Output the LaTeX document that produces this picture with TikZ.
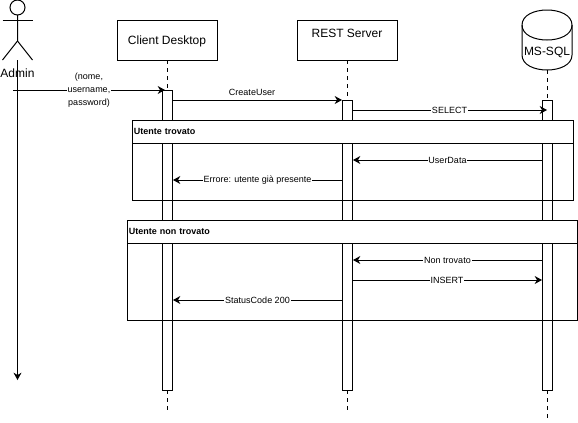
\documentclass[tikz,border=0pt]{standalone}
\usepackage{fontspec}
\setmainfont{Liberation Sans}
\usetikzlibrary{arrows.meta}
\tikzset{
    boxtext/.style={font=\fontsize{9}{11}\selectfont},
    msgtext/.style={font=\fontsize{6.75}{9.75}\selectfont, fill=white, inner sep=0.6pt, align=center},
    headbox/.style={draw, fill=white, boxtext, minimum width=75pt, minimum height=30pt, inner sep=0pt, outer sep=0pt, text height=9pt, text depth=2pt},
    actbox/.style={draw, fill=white, minimum width=7.5pt, inner sep=0pt, outer sep=0pt, anchor=north},
    frametitle/.style={draw, fill=white, font=\fontsize{6.75}{9}\selectfont\bfseries, minimum height=17.25pt, inner sep=1pt, outer sep=0pt, anchor=north west, text depth=0pt},
    msg/.style={-{Stealth[length=5.5pt,width=6pt]}},
    life/.style={dashed, dash pattern=on 3pt off 3pt}
}
\begin{document}
\begin{tikzpicture}[x=0.75pt, y=-0.75pt, line width=0.75pt]
    \useasboundingbox (0,0) rectangle (578,422);

    % Actor
    \draw (17.5,7.5) circle (7.5);
    \draw (17.5,15) -- (17.5,41) -- (2.5,60);
    \draw (17.5,41) -- (32.5,60);
    \draw (2.5,20) -- (32.5,20);
    \coordinate (adminTop) at (17.5,60);
    \coordinate (adminEnd) at (17.5,380);
    \draw[msg] (adminTop) -- (adminEnd);
    \node[boxtext, inner sep=0pt] (admin) at (17.5,73.5) {Admin};

    % Head boxes
    \node[headbox] (client) at (167,40) {Client Desktop};
    \node[headbox] (rest) at (347,40) {\raisebox{5.5pt}{REST Server}};

    % Database
    \draw[fill=white] (522,25) .. controls (522,5) and (572,5) .. (572,25) -- (572,55)
        .. controls (572,75) and (522,75) .. (522,55) -- cycle;
    \draw (522,25) .. controls (522,45) and (572,45) .. (572,25);
    \node[boxtext, inner sep=0pt] (db) at (547,52) {MS-SQL};
    \coordinate (dbBottom) at (547,70);

    % Activation boxes
    \node[actbox, minimum height=225pt] (clientAct) at (167,90) {};
    \node[actbox, minimum height=217.5pt] (restAct) at (347,100) {};
    \node[actbox, minimum height=217.5pt] (dbAct) at (547,100) {};

    % Lifelines
    \coordinate (clientEnd) at (167,410);
    \coordinate (restEnd) at (347,410);
    \coordinate (dbEnd) at (547,420);
    \draw[life] (client.south) -- (clientAct.north);
    \draw[life] (clientAct.south) -- (clientEnd);
    \draw[life] (rest.south) -- (restAct.north);
    \draw[life] (restAct.south) -- (restEnd);
    \draw[life] (dbBottom) -- (dbAct.north);
    \draw[life] (dbAct.south) -- (dbEnd);

    % Frames
    \draw (132,120) rectangle (573,200);
    \node[frametitle, minimum width=330.75pt, text width=328pt] (foundTitle) at (132,120) {Utente trovato};
    \draw (127,220) rectangle (577.5,320);
    \node[frametitle, minimum width=337.9pt, text width=335pt] (missingTitle) at (127,220) {Utente non trovato};

    % Message ends
    \coordinate (adminOut) at (13,90);
    \coordinate (clientIn) at (165,90);
    \coordinate (clientOut) at (172,100);
    \coordinate (restIn) at (342,100);
    \coordinate (restOutA) at (352,110);
    \coordinate (dbInA) at (547,110);
    \coordinate (dbOutA) at (542,160);
    \coordinate (restInA) at (353,160);
    \coordinate (restOutB) at (342,180);
    \coordinate (clientInA) at (173,180);
    \coordinate (dbOutB) at (542,260);
    \coordinate (restInB) at (353,260);
    \coordinate (restOutC) at (352,280);
    \coordinate (dbInB) at (542,280);
    \coordinate (restOutD) at (342,300);
    \coordinate (clientInB) at (173,300);

    % Messages
    \draw[msg] (adminOut) -- node[msgtext, pos=0.5] (credLabel) {(nome,\\username,\\password)} (clientIn);
    \draw[msg] (clientOut) -- (restIn);
    \node[msgtext, fill=none] (createLabel) at (252,92.5) {CreateUser};
    \draw[msg] (restOutA) -- node[msgtext] (selectLabel) {SELECT} (dbInA);
    \draw[msg] (dbOutA) -- node[msgtext] (userLabel) {UserData} (restInA);
    \draw[msg] (restOutB) -- node[msgtext] (errorLabel) {Errore: utente già presente} (clientInA);
    \draw[msg] (dbOutB) -- node[msgtext] (missingLabel) {Non trovato} (restInB);
    \draw[msg] (restOutC) -- node[msgtext] (insertLabel) {INSERT} (dbInB);
    \draw[msg] (restOutD) -- node[msgtext] (statusLabel) {StatusCode 200} (clientInB);
\end{tikzpicture}
\end{document}
